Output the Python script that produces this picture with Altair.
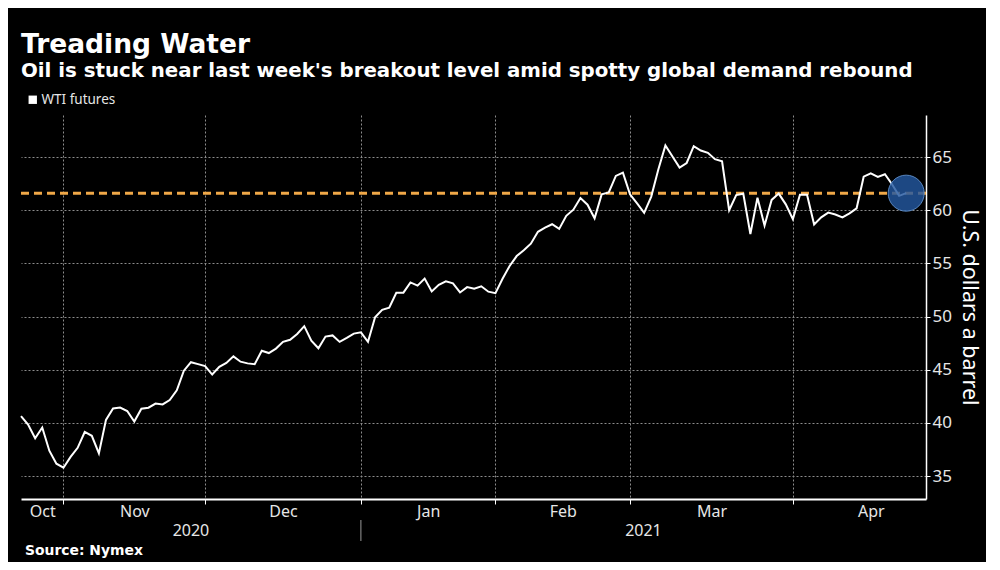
import altair as alt
import pandas as pd

# ---- data ----
DATES = [
    "2020-10-22", "2020-10-23", "2020-10-26", "2020-10-27", "2020-10-28", "2020-10-29", "2020-10-30",
    "2020-11-02", "2020-11-03", "2020-11-04", "2020-11-05", "2020-11-06", "2020-11-09", "2020-11-10",
    "2020-11-11", "2020-11-12", "2020-11-13", "2020-11-16", "2020-11-17", "2020-11-18", "2020-11-19",
    "2020-11-20", "2020-11-23", "2020-11-24", "2020-11-25", "2020-11-27", "2020-11-30",
    "2020-12-01", "2020-12-02", "2020-12-03", "2020-12-04", "2020-12-07", "2020-12-08", "2020-12-09",
    "2020-12-10", "2020-12-11", "2020-12-14", "2020-12-15", "2020-12-16", "2020-12-17", "2020-12-18",
    "2020-12-21", "2020-12-22", "2020-12-23", "2020-12-24", "2020-12-28", "2020-12-29", "2020-12-30",
    "2020-12-31",
    "2021-01-04", "2021-01-05", "2021-01-06", "2021-01-07", "2021-01-08", "2021-01-11", "2021-01-12",
    "2021-01-13", "2021-01-14", "2021-01-15", "2021-01-19", "2021-01-20", "2021-01-21", "2021-01-22",
    "2021-01-25", "2021-01-26", "2021-01-27", "2021-01-28", "2021-01-29",
    "2021-02-01", "2021-02-02", "2021-02-03", "2021-02-04", "2021-02-05", "2021-02-08", "2021-02-09",
    "2021-02-10", "2021-02-11", "2021-02-12", "2021-02-16", "2021-02-17", "2021-02-18", "2021-02-19",
    "2021-02-22", "2021-02-23", "2021-02-24", "2021-02-25", "2021-02-26",
    "2021-03-01", "2021-03-02", "2021-03-03", "2021-03-04", "2021-03-05", "2021-03-08", "2021-03-09",
    "2021-03-10", "2021-03-11", "2021-03-12", "2021-03-15", "2021-03-16", "2021-03-17", "2021-03-18",
    "2021-03-19", "2021-03-22", "2021-03-23", "2021-03-24", "2021-03-25", "2021-03-26", "2021-03-29",
    "2021-03-30", "2021-03-31",
    "2021-04-01", "2021-04-02", "2021-04-05", "2021-04-06", "2021-04-07", "2021-04-08", "2021-04-09",
    "2021-04-12", "2021-04-13", "2021-04-14", "2021-04-15", "2021-04-16", "2021-04-19", "2021-04-20",
    "2021-04-21", "2021-04-22",
]

WTI = [
    40.64, 39.85, 38.56, 39.57, 37.39, 36.17, 35.79,
    36.81, 37.66, 39.15, 38.79, 37.14, 40.29, 41.36, 41.45, 41.12, 40.13, 41.34, 41.43, 41.82,
    41.74, 42.15, 43.06, 44.91, 45.71, 45.53, 45.34,
    44.55, 45.28, 45.64, 46.26, 45.76, 45.60, 45.52, 46.78, 46.57, 46.99, 47.62, 47.82, 48.36,
    49.10, 47.74, 47.02, 48.12, 48.23, 47.62, 48.00, 48.40, 48.52,
    47.62, 49.93, 50.63, 50.83, 52.24, 52.25, 53.21, 52.91, 53.57, 52.36, 52.98, 53.31, 53.13,
    52.27, 52.77, 52.61, 52.85, 52.34, 52.20,
    53.55, 54.76, 55.69, 56.23, 56.85, 57.97, 58.36, 58.68, 58.24, 59.47, 60.05, 61.14, 60.52,
    59.24, 61.49, 61.67, 63.22, 63.53, 61.50,
    60.64, 59.75, 61.28, 63.83, 66.09, 65.05, 64.01, 64.44, 66.02, 65.61, 65.39, 64.80, 64.60,
    60.00, 61.42, 61.55, 57.76, 61.18, 58.56, 60.97, 61.56, 60.55, 59.16,
    61.45, 61.45, 58.65, 59.33, 59.77, 59.60, 59.32, 59.70, 60.18, 63.15, 63.46, 63.13, 63.38,
    62.44, 61.35, 61.60,
]

SERIES_NAME = "WTI futures"
MONTH_END_IDX = [6, 26, 48, 67, 86, 109]          # last trading day of each month
MONTH_NAMES = ["Oct", "Nov", "Dec", "Jan", "Feb", "Mar", "Apr"]
MONTH_LABEL_POS = [3, 16, 37, 57.5, 76.5, 97.5, 120]
YEARS = ["2020", "2021"]
YEAR_LABEL_POS = [24, 87.9]
YEAR_SPLIT_IDX = [48]
BREAKOUT_LEVEL = [61.6]
HIGHLIGHT_IDX = [125]
HIGHLIGHT_VAL = [61.6]
Y_TICKS = [35, 37.5, 40, 42.5, 45, 47.5, 50, 52.5, 55, 57.5, 60, 62.5, 65, 67.5]
X_DOMAIN = [0, 127.8]
Y_DOMAIN = [32.85, 68.95]

TITLE = "Treading Water"
SUBTITLE = "Oil is stuck near last week's breakout level amid spotty global demand rebound"
SOURCE = ["Source: Nymex"]
Y_TITLE = "U.S. dollars a barrel"

# ---- tables ----
df = pd.DataFrame({"date": DATES, "idx": list(range(len(DATES))), "price": WTI, "series": SERIES_NAME})
level_df = pd.DataFrame({"price": BREAKOUT_LEVEL})
hl_df = pd.DataFrame({"idx": HIGHLIGHT_IDX, "price": HIGHLIGHT_VAL})
year_df = pd.DataFrame({"idx": YEAR_LABEL_POS, "year": YEARS})
split_df = pd.DataFrame({"idx": YEAR_SPLIT_IDX})
src_df = pd.DataFrame({"txt": SOURCE})

LABEL_FONT = "Noto Sans"
GRID_COLOR = "#8c8c8c"

x_scale = alt.Scale(domain=X_DOMAIN, nice=False, zero=False)
y_scale = alt.Scale(domain=Y_DOMAIN, nice=False, zero=False)

month_expr = " : ".join(f"datum.value == {p} ? '{m}'" for p, m in zip(MONTH_LABEL_POS, MONTH_NAMES)) + " : ''"
is_month_end = f"indexof({MONTH_END_IDX}, datum.value) >= 0"

x_axis = alt.Axis(
    values=sorted(MONTH_END_IDX + MONTH_LABEL_POS),
    labelExpr=month_expr,
    title=None,
    grid=True,
    gridColor=GRID_COLOR,
    gridDash=[2, 2],
    gridWidth=1,
    gridOpacity={"condition": {"test": is_month_end, "value": 1}, "value": 0},
    tickOpacity={"condition": {"test": is_month_end, "value": 1}, "value": 0},
    tickColor="white",
    tickSize=5,
    domainColor="white",
    domainWidth=2,
    labelColor="#e6e6e6",
    labelFont=LABEL_FONT,
    labelFontSize=16,
    labelPadding=-1,
    labelFlush=False,
    labelOverlap=False,
)

y_axis = alt.Axis(
    orient="right",
    values=Y_TICKS,
    labelExpr="datum.value % 5 == 0 ? '' + datum.value : ''",
    title=Y_TITLE,
    titleColor="white",
    titleFont=LABEL_FONT,
    titleFontSize=21.5,
    titleFontWeight="normal",
    titlePadding=6,
    grid=True,
    gridColor=GRID_COLOR,
    gridDash=[2, 2],
    gridWidth=1,
    gridOpacity={"condition": {"test": "datum.value % 5 == 0", "value": 1}, "value": 0},
    tickColor="white",
    tickSize=4,
    domainColor="white",
    domainWidth=1.5,
    labelColor="#e6e6e6",
    labelFont=LABEL_FONT,
    labelFontSize=17,
    labelPadding=2,
    labelOverlap=False,
)

line = alt.Chart(df).mark_line(strokeWidth=2, color="white").encode(
    x=alt.X("idx:Q", scale=x_scale, axis=x_axis),
    y=alt.Y("price:Q", scale=y_scale, axis=y_axis),
    color=alt.Color(
        "series:N",
        scale=alt.Scale(range=["white"]),
        legend=alt.Legend(
            orient="none",
            legendX=5,
            legendY=-22,
            title=None,
            symbolType="square",
            symbolSize=70,
            symbolFillColor="white",
            symbolStrokeColor="white",
            symbolStrokeWidth=0,
            labelColor="#e6e6e6",
            labelFont=LABEL_FONT,
            labelFontSize=13.5,
            labelOffset=2,
            padding=0,
        ),
    ),
)

level = alt.Chart(level_df).mark_rule(color="#F0A848", strokeWidth=3, strokeDash=[8, 5]).encode(
    y=alt.Y("price:Q", scale=y_scale)
)

highlight = alt.Chart(hl_df).mark_circle(
    size=1300, color="#2358a0", fillOpacity=0.82, stroke="#5f8fca", strokeWidth=1, strokeOpacity=0.9
).encode(x=alt.X("idx:Q", scale=x_scale), y=alt.Y("price:Q", scale=y_scale))

years = alt.Chart(year_df).mark_text(
    color="#e6e6e6", font=LABEL_FONT, fontSize=16, baseline="middle", align="center"
).encode(x=alt.X("idx:Q", scale=x_scale), y=alt.value(416), text="year:N")

split = alt.Chart(split_df).mark_rule(color="#9a9a9a", strokeWidth=1).encode(
    x=alt.X("idx:Q", scale=x_scale), y=alt.value(405), y2=alt.value(426)
)

source = alt.Chart(src_df).mark_text(
    color="white", font="DejaVu Sans", fontWeight="bold", fontSize=13.9, align="left", baseline="middle"
).encode(x=alt.value(4), y=alt.value(436), text="txt:N")

chart = (
    alt.layer(level, line, highlight, years, split, source)
    .properties(
        width=905,
        height=384,
        autosize="none",
        padding={"left": 13, "top": 107, "right": 60, "bottom": 63},
        background="#000000",
        title=alt.TitleParams(
            text=TITLE,
            subtitle=SUBTITLE,
            anchor="start",
            frame="group",
            font="DejaVu Sans",
            fontSize=26.5,
            fontWeight="bold",
            color="white",
            subtitleFont="DejaVu Sans",
            subtitleFontSize=19.8,
            subtitleFontWeight="bold",
            subtitleColor="white",
            subtitlePadding=3,
            offset=12,
        ),
    )
    .configure_view(stroke=None)
)

chart.save("out.html", embed_options={"renderer": "svg", "actions": False})
